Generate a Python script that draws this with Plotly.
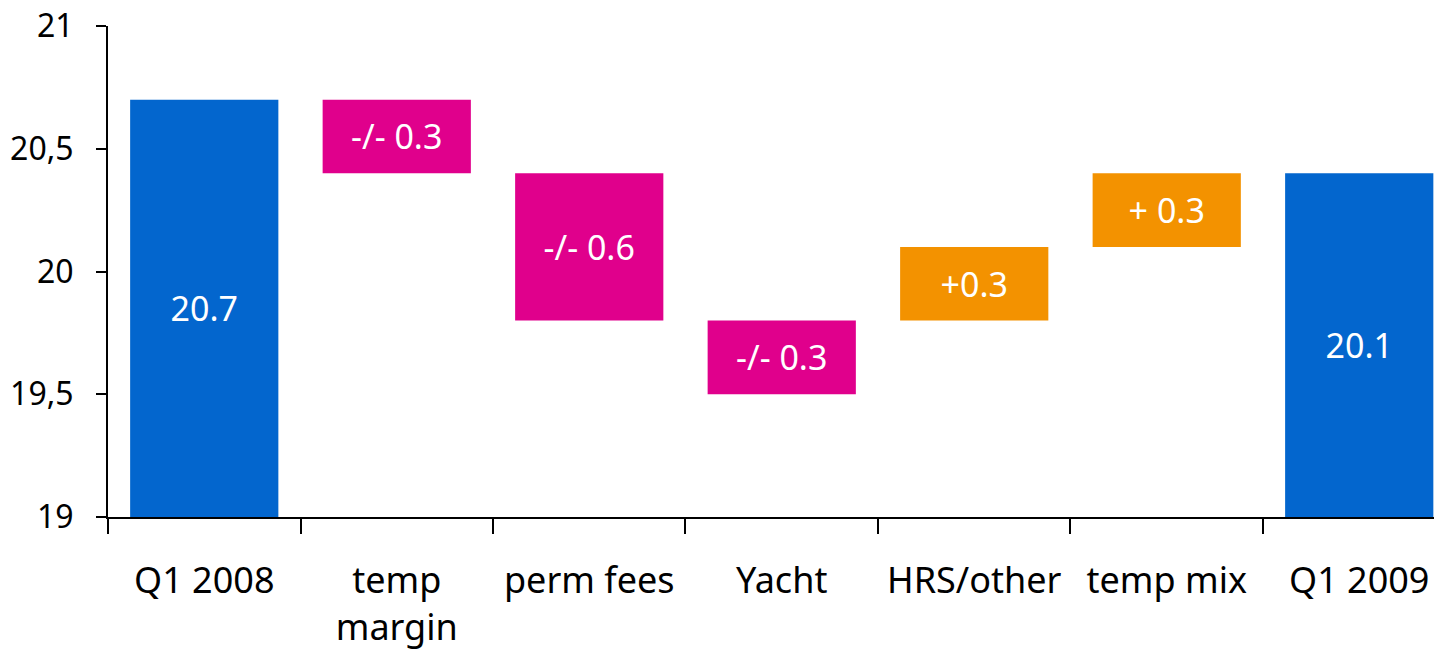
import plotly.graph_objects as go

categories = ["Q1 2008", "temp<br>margin", "perm fees", "Yacht", "HRS/other", "temp mix", "Q1 2009"]
bases = [19.0, 20.4, 19.8, 19.5, 19.8, 20.1, 19.0]
heights = [1.7, 0.3, 0.6, 0.3, 0.3, 0.3, 1.4]
labels = ["20.7", "-/- 0.3", "-/- 0.6", "-/- 0.3", "+0.3", "+ 0.3", "20.1"]
kinds = ["total", "down", "down", "down", "up", "up", "total"]

y_ticks = [19, 19.5, 20, 20.5, 21]
y_tick_text = ["19", "19,5", "20", "20,5", "21"]

palette = {"total": "#0366CE", "down": "#E0008C", "up": "#F39200"}
colors = [palette[k] for k in kinds]

fig = go.Figure()
fig.add_trace(go.Bar(
    x=categories, y=heights, base=bases,
    marker=dict(color=colors, line=dict(width=0)),
    width=0.77,
    text=labels, textposition="inside", insidetextanchor="middle",
    textangle=0,
    textfont=dict(color="white", size=34, family="Noto Sans"),
    hoverinfo="skip",
))

# the page body has an 8px margin, so the figure is a bit smaller than the window
fig.update_layout(
    width=1434, height=647,
    margin=dict(l=100, r=0, t=18, b=138),
    plot_bgcolor="white", paper_bgcolor="white",
    font=dict(family="Noto Sans", size=36, color="black"),
    showlegend=False,
    uniformtext=dict(minsize=20, mode="show"),
)
fig.update_xaxes(
    range=[-0.5, 6.43], automargin=False,
    showline=True, linecolor="black", linewidth=2,
    ticks="outside", tickson="boundaries", ticklen=15, tickcolor="black", tickwidth=2,
    ticklabelstandoff=31, ticklabeloverflow="allow",
    showgrid=False, zeroline=False,
)
fig.update_yaxes(
    range=[19, 21], automargin=False,
    tickvals=y_ticks, ticktext=y_tick_text,
    tickfont=dict(size=32),
    showline=True, linecolor="black", linewidth=2,
    ticks="outside", ticklen=10, tickcolor="black", tickwidth=2,
    ticklabelstandoff=16, ticklabeloverflow="allow",
    showgrid=False, zeroline=False,
)

fig.write_html("out.html")
